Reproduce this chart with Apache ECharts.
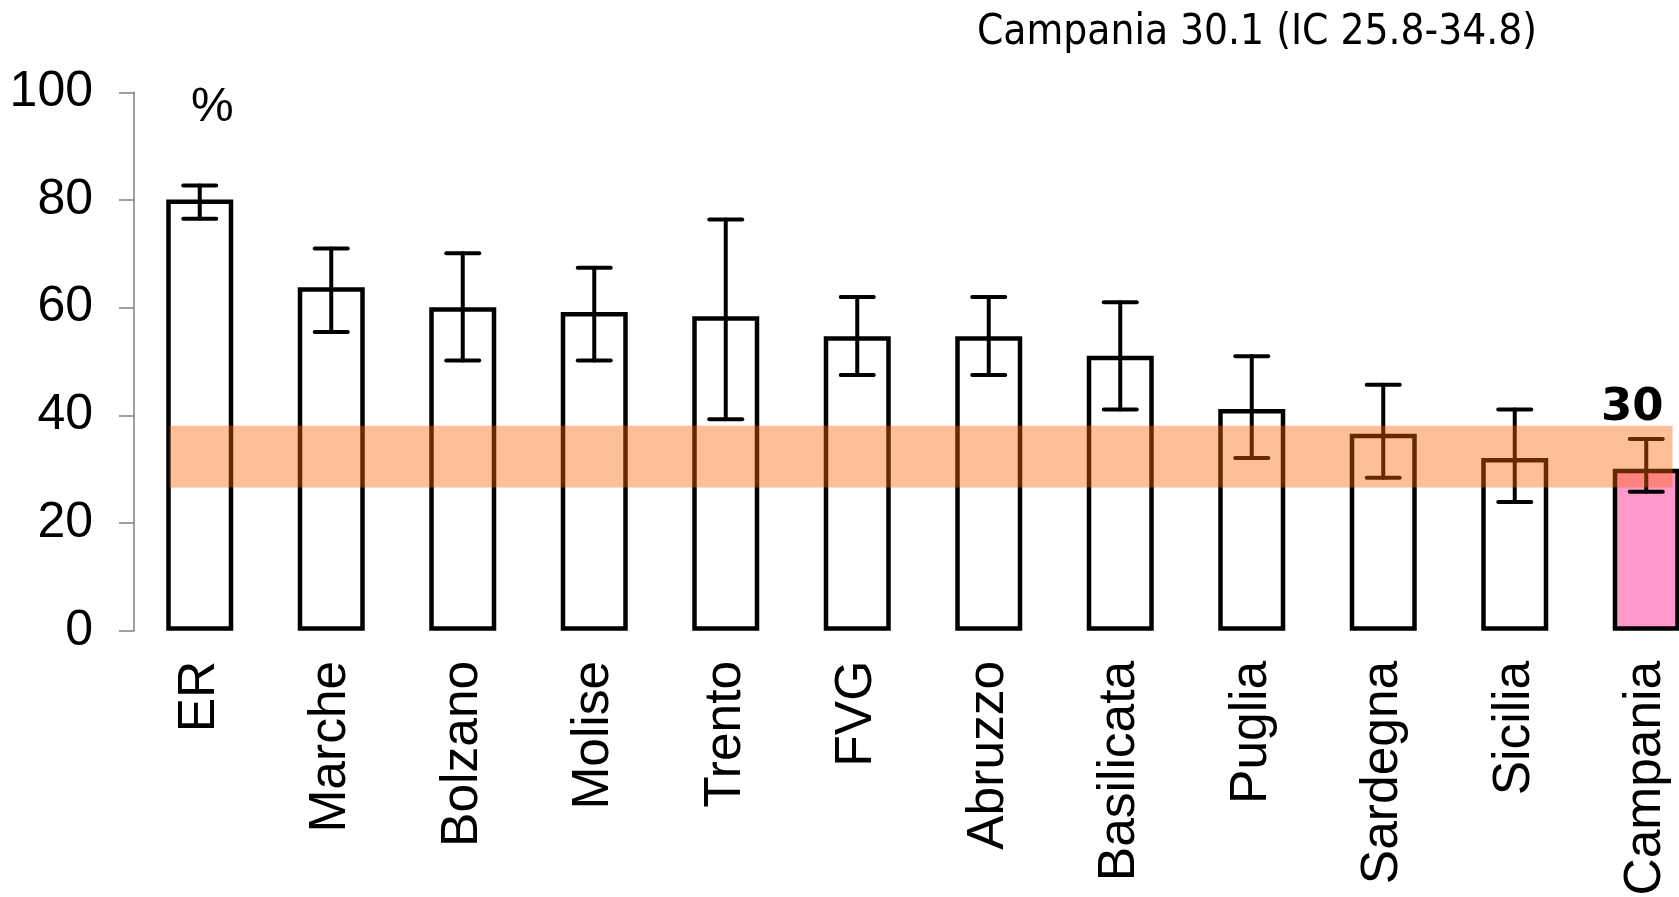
<!DOCTYPE html>
<html>
<head>
<meta charset="utf-8">
<script src="https://cdn.jsdelivr.net/npm/echarts@6/dist/echarts.min.js"></script>
<style>
html,body{margin:0;padding:0;background:#fff;}
#chart{width:1679px;height:897px;}
</style>
</head>
<body>
<div id="chart"></div>
<script>
const categories = ['ER','Marche','Bolzano','Molise','Trento','FVG','Abruzzo','Basilicata','Puglia','Sardegna','Sicilia','Campania'];
const values = [80.1, 63.8, 60.1, 59.2, 58.4, 54.7, 54.7, 51.1, 41.2, 36.6, 32.1, 30.1];
const lower  = [76.5, 55.5, 50.2, 50.2, 39.3, 47.5, 47.5, 41.1, 32.1, 28.4, 23.9, 25.8];
const upper  = [82.7, 71.0, 70.1, 67.4, 76.4, 62.0, 62.0, 61.0, 51.0, 45.7, 41.1, 35.6];
const highlight = 'Campania';
const bandRange = [26.6, 38.1];
const bandSpan = [0.27, 11.7];
const yTicks = [0, 20, 40, 60, 80, 100];
const titleText = 'Campania 30.1 (IC 25.8-34.8)';
const unitText = '%';

const FONT = "'Liberation Sans', Arial, sans-serif";
const FONT2 = "'DejaVu Sans Condensed', 'DejaVu Sans', sans-serif";

const barData = values.map((v, i) => {
  if (categories[i] === highlight) {
    return {
      value: v,
      itemStyle: { color: '#FF99CC' },
      label: {
        show: true, position: 'top', distance: 38, offset: [-14, 0],
        formatter: p => String(Math.round(p.value)),
        fontFamily: "'DejaVu Sans', sans-serif", fontSize: 45, fontWeight: 'bold', color: '#000'
      }
    };
  }
  return v;
});

const errData = categories.map((c, i) => [i, lower[i], upper[i]]);

const chart = echarts.init(document.getElementById('chart'), null, { renderer: 'canvas' });
chart.setOption({
  backgroundColor: '#fff',
  animation: false,
  title: [
    { text: titleText, right: 137, top: 7,
      textStyle: { fontFamily: FONT2, fontSize: 42, fontWeight: 'normal', color: '#000' } },
    { text: unitText, left: 186, top: 79,
      textStyle: { fontFamily: FONT, fontSize: 48, fontWeight: 'normal', color: '#000' } }
  ],
  grid: { left: 134, width: 1578, top: 92.3, height: 538.5, containLabel: false, outerBoundsMode: 'none' },
  xAxis: [
    {
      type: 'category', data: categories,
      axisLine: { show: false }, axisTick: { show: false },
      axisLabel: { interval: 0, rotate: 90, margin: 30, fontFamily: FONT, fontSize: 51.5, color: '#000' }
    },
    { type: 'value', min: 0, max: categories.length, show: false }
  ],
  yAxis: {
    type: 'value', min: yTicks[0], max: yTicks[yTicks.length - 1], interval: yTicks[1] - yTicks[0],
    axisLine: { show: true, lineStyle: { color: '#808080', width: 1.5 } },
    axisTick: { show: true, inside: false, length: 15, lineStyle: { color: '#808080', width: 1.5 } },
    splitLine: { show: false },
    axisLabel: { margin: 41, fontFamily: FONT, fontSize: 50, color: '#000' }
  },
  series: [
    {
      type: 'bar', data: barData, barWidth: 67, z: 2,
      itemStyle: { color: '#fff', borderColor: '#000', borderWidth: 4.5 }
    },
    {
      type: 'custom', z: 3, data: errData,
      renderItem: function (params, api) {
        const x = api.value(0);
        const lo = api.coord([x, api.value(1)]);
        const hi = api.coord([x, api.value(2)]);
        const hw = 16.5;
        const st = { stroke: '#000', lineWidth: 4, lineCap: 'round' };
        return {
          type: 'group',
          children: [
            { type: 'line', shape: { x1: lo[0], y1: lo[1], x2: hi[0], y2: hi[1] }, style: st },
            { type: 'line', shape: { x1: hi[0] - hw, y1: hi[1], x2: hi[0] + hw, y2: hi[1] }, style: st },
            { type: 'line', shape: { x1: lo[0] - hw, y1: lo[1], x2: lo[0] + hw, y2: lo[1] }, style: st }
          ]
        };
      }
    },
    {
      type: 'custom', z: 4, xAxisIndex: 1, yAxisIndex: 0,
      data: [[bandSpan[0], bandRange[0], bandSpan[1], bandRange[1]]],
      renderItem: function (params, api) {
        const p0 = api.coord([api.value(0), api.value(3)]);
        const p1 = api.coord([api.value(2), api.value(1)]);
        return {
          type: 'rect',
          shape: { x: p0[0], y: p0[1], width: p1[0] - p0[0], height: p1[1] - p0[1] },
          style: { fill: 'rgba(250,100,10,0.41)' }
        };
      }
    }
  ]
});
</script>
</body>
</html>
